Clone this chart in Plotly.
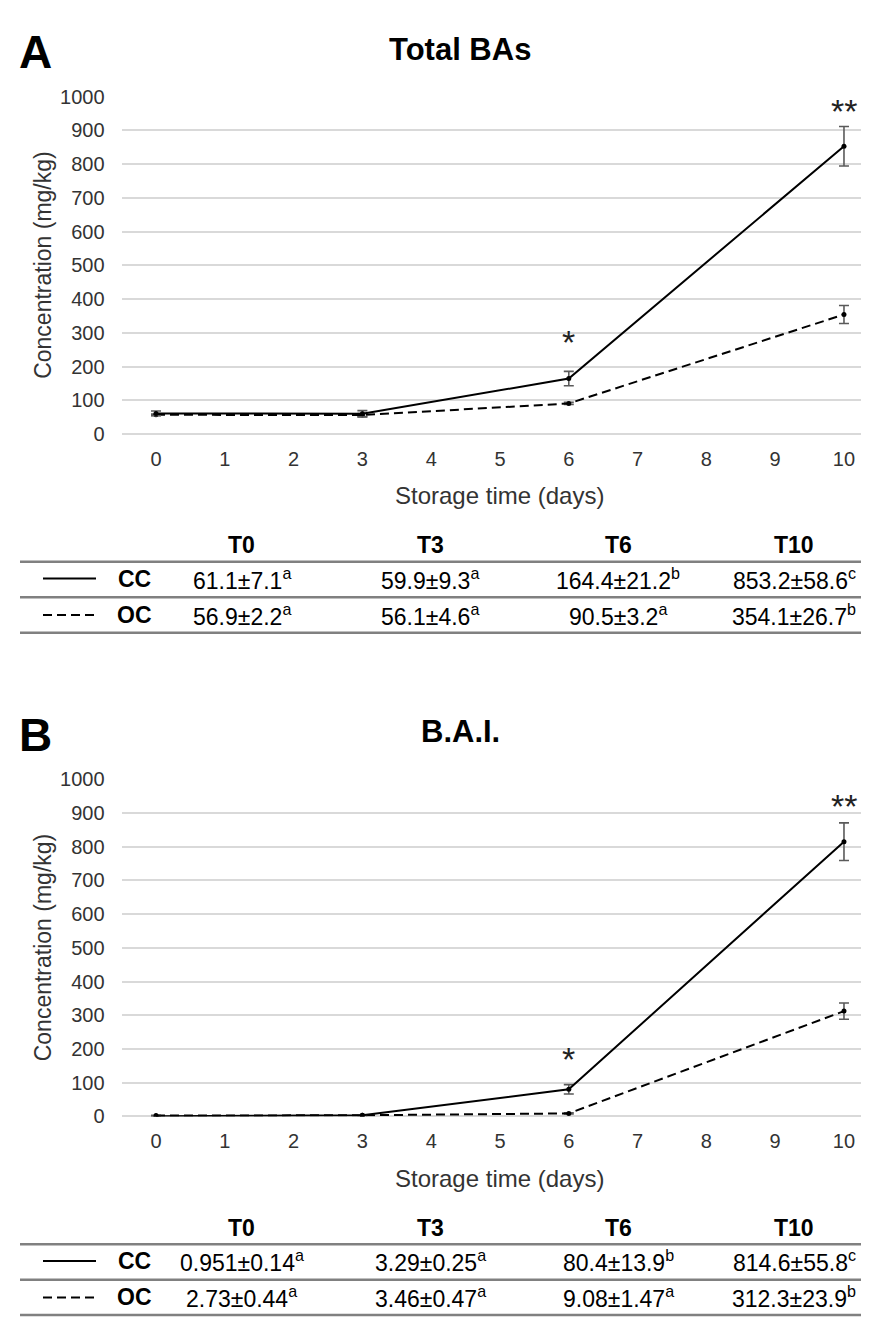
import plotly.graph_objects as go

W, H = 869, 1324

# ---------------- data ----------------
days = [0, 3, 6, 10]
x_tick_vals = list(range(0, 11))
y_tick_vals = list(range(0, 1001, 100))
panel_letters = ["A", "B"]
panel_titles = ["Total BAs", "B.A.I."]
series_names = ["CC", "OC"]
time_labels = ["T0", "T3", "T6", "T10"]
x_title = "Storage time (days)"
y_title = "Concentration (mg/kg)"

a_cc = [61.1, 59.9, 164.4, 853.2]
a_cc_sd = [7.1, 9.3, 21.2, 58.6]
a_cc_letters = ["a", "a", "b", "c"]
a_oc = [56.9, 56.1, 90.5, 354.1]
a_oc_sd = [2.2, 4.6, 3.2, 26.7]
a_oc_letters = ["a", "a", "a", "b"]

b_cc = [0.951, 3.29, 80.4, 814.6]
b_cc_sd = [0.14, 0.25, 13.9, 55.8]
b_cc_letters = ["a", "a", "b", "c"]
b_oc = [2.73, 3.46, 9.08, 312.3]
b_oc_sd = [0.44, 0.47, 1.47, 23.9]
b_oc_letters = ["a", "a", "a", "b"]

sig_days = [6, 10]
sig_marks = ["*", "**"]
a_sig_y = [297, 982]
b_sig_y = [195, 944]

FONT = "Liberation Sans, Arial, Helvetica, sans-serif"
TXT = "#333333"

def px(x):
    return x / W

def py(y):
    return 1 - y / H

fig = go.Figure()

panels = [
    dict(cc=a_cc, cc_sd=a_cc_sd, cc_l=a_cc_letters, oc=a_oc, oc_sd=a_oc_sd, oc_l=a_oc_letters,
         sig_y=a_sig_y, off=0),
    dict(cc=b_cc, cc_sd=b_cc_sd, cc_l=b_cc_letters, oc=b_oc, oc_sd=b_oc_sd, oc_l=b_oc_letters,
         sig_y=b_sig_y, off=694),
]

annotations = []
shapes = []

for i, p in enumerate(panels):
    xa = "x" if i == 0 else "x2"
    ya = "y" if i == 0 else "y2"
    off = p["off"]
    # OC dashed
    fig.add_trace(go.Scatter(
        x=days, y=p["oc"], xaxis=xa, yaxis=ya, mode="lines+markers",
        line=dict(color="black", width=2, dash="9px,5px"),
        marker=dict(color="black", size=5),
        error_y=dict(type="data", array=p["oc_sd"], visible=True, color="#5a5a5a", thickness=1.6, width=5),
        showlegend=False, name="OC"))
    # CC solid
    fig.add_trace(go.Scatter(
        x=days, y=p["cc"], xaxis=xa, yaxis=ya, mode="lines+markers",
        line=dict(color="black", width=2),
        marker=dict(color="black", size=5),
        error_y=dict(type="data", array=p["cc_sd"], visible=True, color="#5a5a5a", thickness=1.6, width=5),
        showlegend=False, name="CC"))
    # significance asterisks
    for d, m, yv in zip(sig_days, sig_marks, p["sig_y"]):
        annotations.append(dict(x=d, y=yv, xref=xa, yref=ya, text=m, showarrow=False,
                                font=dict(family=FONT, size=34, color="#222"),
                                xanchor="center", yanchor="middle", yshift=-8))
    # panel letter and title
    annotations.append(dict(x=px(27), y=py(34 + off), xref="paper", yref="paper", text="<b>%s</b>" % panel_letters[i],
                            showarrow=False, font=dict(family=FONT, size=46, color="black"),
                            xanchor="center", yanchor="middle"))
    annotations.append(dict(x=px(452), y=py(31 + off), xref="paper", yref="paper", text="<b>%s</b>" % panel_titles[i],
                            showarrow=False, font=dict(family=FONT, size=31, color="black"),
                            xanchor="center", yanchor="middle"))
    # axis titles
    annotations.append(dict(x=px(35), y=py(250 + off), xref="paper", yref="paper", text=y_title, textangle=-90,
                            showarrow=False, font=dict(family=FONT, size=23, color=TXT),
                            xanchor="center", yanchor="middle"))
    annotations.append(dict(x=px(491), y=py(485 + off), xref="paper", yref="paper", text=x_title,
                            showarrow=False, font=dict(family=FONT, size=24, color=TXT),
                            xanchor="center", yanchor="middle"))
    # ---- table ----
    col_x = [234, 422, 610, 786]
    for t, cx in zip(time_labels, col_x):
        annotations.append(dict(x=px(cx), y=py(535 + off), xref="paper", yref="paper", text="<b>%s</b>" % t,
                                showarrow=False, font=dict(family=FONT, size=23, color="black"),
                                xanchor="center", yanchor="middle"))
    rows = [(p["cc"], p["cc_sd"], p["cc_l"], 569), (p["oc"], p["oc_sd"], p["oc_l"], 606)]
    for (vals, sds, lets, ry), name in zip(rows, series_names):
        for v, s, l, cx in zip(vals, sds, lets, col_x):
            annotations.append(dict(x=px(cx), y=py(ry + off), xref="paper", yref="paper",
                                    text="%s±%s<sup>%s</sup>" % (v, s, l),
                                    showarrow=False, font=dict(family=FONT, size=23, color="black"),
                                    xanchor="center", yanchor="middle"))
        annotations.append(dict(x=px(126), y=py(ry + off), xref="paper", yref="paper", text="<b>%s</b>" % name,
                                showarrow=False, font=dict(family=FONT, size=23, color="black"),
                                xanchor="center", yanchor="middle"))
        shapes.append(dict(type="line", xref="paper", yref="paper", x0=px(35), x1=px(88),
                           y0=py(ry + off), y1=py(ry + off),
                           line=dict(color="black", width=2, dash="solid" if name == "CC" else "9px,5px")))
    for ly in [552, 588, 624]:
        shapes.append(dict(type="line", xref="paper", yref="paper", x0=px(12), x1=1,
                           y0=py(ly + off), y1=py(ly + off), line=dict(color="#808080", width=2.5)))

axis_common_x = dict(range=[-0.5, 10.48], tickvals=x_tick_vals, showgrid=False, zeroline=False,
                     showline=False, ticks="", tickfont=dict(family=FONT, size=20, color=TXT),
                     ticklabelstandoff=11, fixedrange=True)
axis_common_y = dict(range=[0, 1000], tickvals=y_tick_vals, showgrid=True, gridcolor="#d9d9d9", gridwidth=2,
                     zeroline=True, zerolinecolor="#d9d9d9", zerolinewidth=2, showline=False, ticks="",
                     tickfont=dict(family=FONT, size=20, color=TXT), ticklabelstandoff=16, fixedrange=True)

fig.update_layout(
    width=W, height=H, margin=dict(l=0, r=0, t=0, b=0),
    paper_bgcolor="white", plot_bgcolor="white", showlegend=False,
    xaxis=dict(domain=[113.6 / W, 1], anchor="y", **axis_common_x),
    yaxis=dict(domain=[py(422), py(79)], anchor="x", **axis_common_y),
    xaxis2=dict(domain=[113.6 / W, 1], anchor="y2", **axis_common_x),
    yaxis2=dict(domain=[py(1116), py(773)], anchor="x2", **axis_common_y),
    annotations=annotations, shapes=shapes,
)

fig.write_html("out.html")
